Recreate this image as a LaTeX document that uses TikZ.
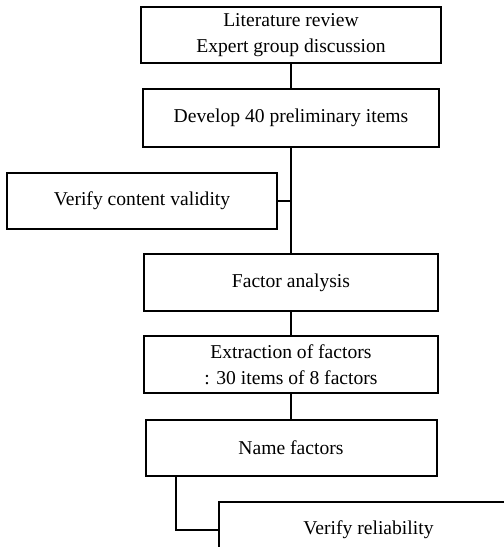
\documentclass[tikz,border=0pt]{standalone}
\usepackage{fontspec}
\setmainfont{Liberation Serif}
\usetikzlibrary{calc,positioning}

\begin{document}
\begin{tikzpicture}[
  font=\fontsize{9.8}{13}\selectfont,
  stage/.style={draw=black, line width=1pt, fill=white, align=center,
                minimum width=147pt, minimum height=28.5pt, inner sep=2pt},
  link/.style={line width=1pt},
]
\clip (0,0) rectangle (252pt,-273.5pt);

% ---- main chain (top to bottom) ----
\node[stage, minimum width=150pt, minimum height=28pt] (review) at (145.5pt,-17.5pt)
  {Literature review\\Expert group discussion};
\node[stage, minimum width=148pt, minimum height=29pt, below=12pt of review] (items)
  {Develop 40 preliminary items};
\node[stage, below=52.5pt of items] (factor) {Factor analysis};
\node[stage, below=11.5pt of factor] (extract)
  {Extraction of factors\\: 30 items of 8 factors};
\node[stage, minimum width=145.5pt, minimum height=28pt, below=12.5pt of extract] (name)
  {Name factors};

\draw[link] (review) -- (items);
\draw[link] (items)  -- (factor);
\draw[link] (factor) -- (extract);
\draw[link] (extract) -- (name);

% ---- side branch: content validity ----
\node[stage, minimum width=135pt, minimum height=28pt, anchor=east] (validity)
  at ($(items.south)!0.5!(factor.north)+(-6.5pt,0)$) {Verify content validity};
\draw[link] (validity.east) -- ++(6.5pt,0);

% ---- last step: reliability ----
\node[stage, minimum width=150pt, minimum height=28pt, anchor=north west] (reliab)
  at ($(name.south west)+(36.5pt,-12pt)$) {Verify reliability};
\coordinate (bend) at ($(name.south west)+(15.5pt,0)$);
\draw[link] (bend) |- (reliab.west);

\end{tikzpicture}
\end{document}
